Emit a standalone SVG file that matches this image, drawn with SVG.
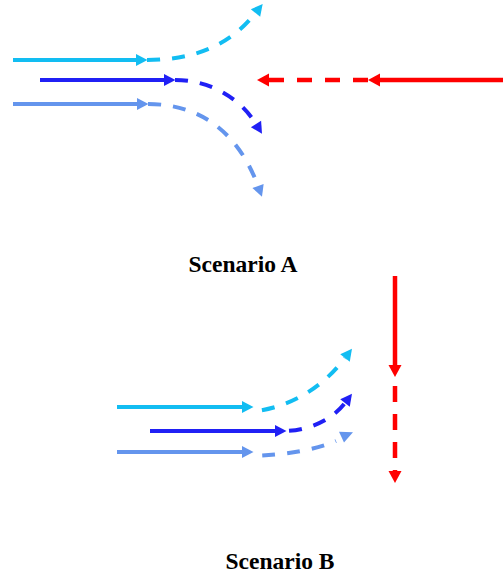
<svg xmlns="http://www.w3.org/2000/svg" width="503" height="575" viewBox="0 0 503 575">
  <style>
    .c1 { stroke: #12BDF2; }
    .c2 { stroke: #2020F5; }
    .c3 { stroke: #6495ED; }
    .red { stroke: #FF0000; }
    .ln { fill: none; stroke-width: 4; }
    .rl { fill: none; stroke-width: 4.5; }
    .dash { stroke-dasharray: 13 12; }
    .rdash { stroke-dasharray: 15 13; }
    .label { font-family: "Liberation Serif", "Times New Roman", serif; font-weight: bold; font-size: 23.5px; fill: #000; text-anchor: middle; }
  </style>
  <defs>
    <marker id="h1" markerUnits="userSpaceOnUse" markerWidth="13" markerHeight="13" refX="0" refY="6" orient="auto" overflow="visible">
      <path d="M0,0 L11.5,6 L0,12 Z" fill="#12BDF2"/>
    </marker>
    <marker id="h2" markerUnits="userSpaceOnUse" markerWidth="13" markerHeight="13" refX="0" refY="6" orient="auto" overflow="visible">
      <path d="M0,0 L11.5,6 L0,12 Z" fill="#2020F5"/>
    </marker>
    <marker id="h3" markerUnits="userSpaceOnUse" markerWidth="13" markerHeight="13" refX="0" refY="6" orient="auto" overflow="visible">
      <path d="M0,0 L11.5,6 L0,12 Z" fill="#6495ED"/>
    </marker>
    <marker id="hr" markerUnits="userSpaceOnUse" markerWidth="14" markerHeight="14" refX="0" refY="6.5" orient="auto" overflow="visible">
      <path d="M0,0 L12,6.5 L0,13 Z" fill="#FF0000"/>
    </marker>
  </defs>

  <g id="connectors">
    <!-- Scenario A -->
    <g id="a-cyan">
      <path class="ln c1" d="M13,60 L136,60" marker-end="url(#h1)"/>
      <path class="ln c1 dash" d="M147,60 C195,60 230,45 255.5,13" marker-end="url(#h1)"/>
    </g>
    <g id="a-blue">
      <path class="ln c2" d="M40,80 L164,80" marker-end="url(#h2)"/>
      <path class="ln c2 dash" d="M175,80 C210,80 240,98 256,124" marker-end="url(#h2)"/>
    </g>
    <g id="a-light">
      <path class="ln c3" d="M13,104 L137,104" marker-end="url(#h3)"/>
      <path class="ln c3 dash" d="M148,104 C200,104 238,132 258,186" marker-end="url(#h3)"/>
    </g>
    <g id="a-red">
      <path class="rl red" d="M503,80 L380,80" marker-end="url(#hr)"/>
      <path class="rl red rdash" d="M368,80 L269,80" marker-end="url(#hr)"/>
    </g>

    <!-- Scenario B -->
    <g id="b-cyan">
      <path class="ln c1" d="M117,407 L242,407" marker-end="url(#h1)"/>
      <path class="ln c1 dash" stroke-dashoffset="13" d="M250,412 C290,408 322,388 345,358" marker-end="url(#h1)"/>
    </g>
    <g id="b-blue">
      <path class="ln c2" d="M150,431 L275,431" marker-end="url(#h2)"/>
      <path class="ln c2 dash" stroke-dashoffset="-3" d="M286,431 C310,430 332,420 345,403" marker-end="url(#h2)"/>
    </g>
    <g id="b-light">
      <path class="ln c3" d="M117,452 L242,452" marker-end="url(#h3)"/>
      <path class="ln c3 dash" stroke-dashoffset="13" d="M250,456 C285,455 315,450 336,441"/>
      <polygon points="339,431.7 353,432.3 344,442.5" fill="#6495ED"/>
    </g>
    <g id="b-red">
      <path class="rl red" d="M395,276 L395,365" marker-end="url(#hr)"/>
      <path class="rl red" stroke-dasharray="16 12" stroke-dashoffset="19" d="M395,377 L395,471" marker-end="url(#hr)"/>
    </g>
  </g>

  <g id="label-a">
    <text class="label" x="243" y="272">Scenario A</text>
  </g>
  <g id="label-b">
    <text class="label" x="280" y="569">Scenario B</text>
  </g>
</svg>
